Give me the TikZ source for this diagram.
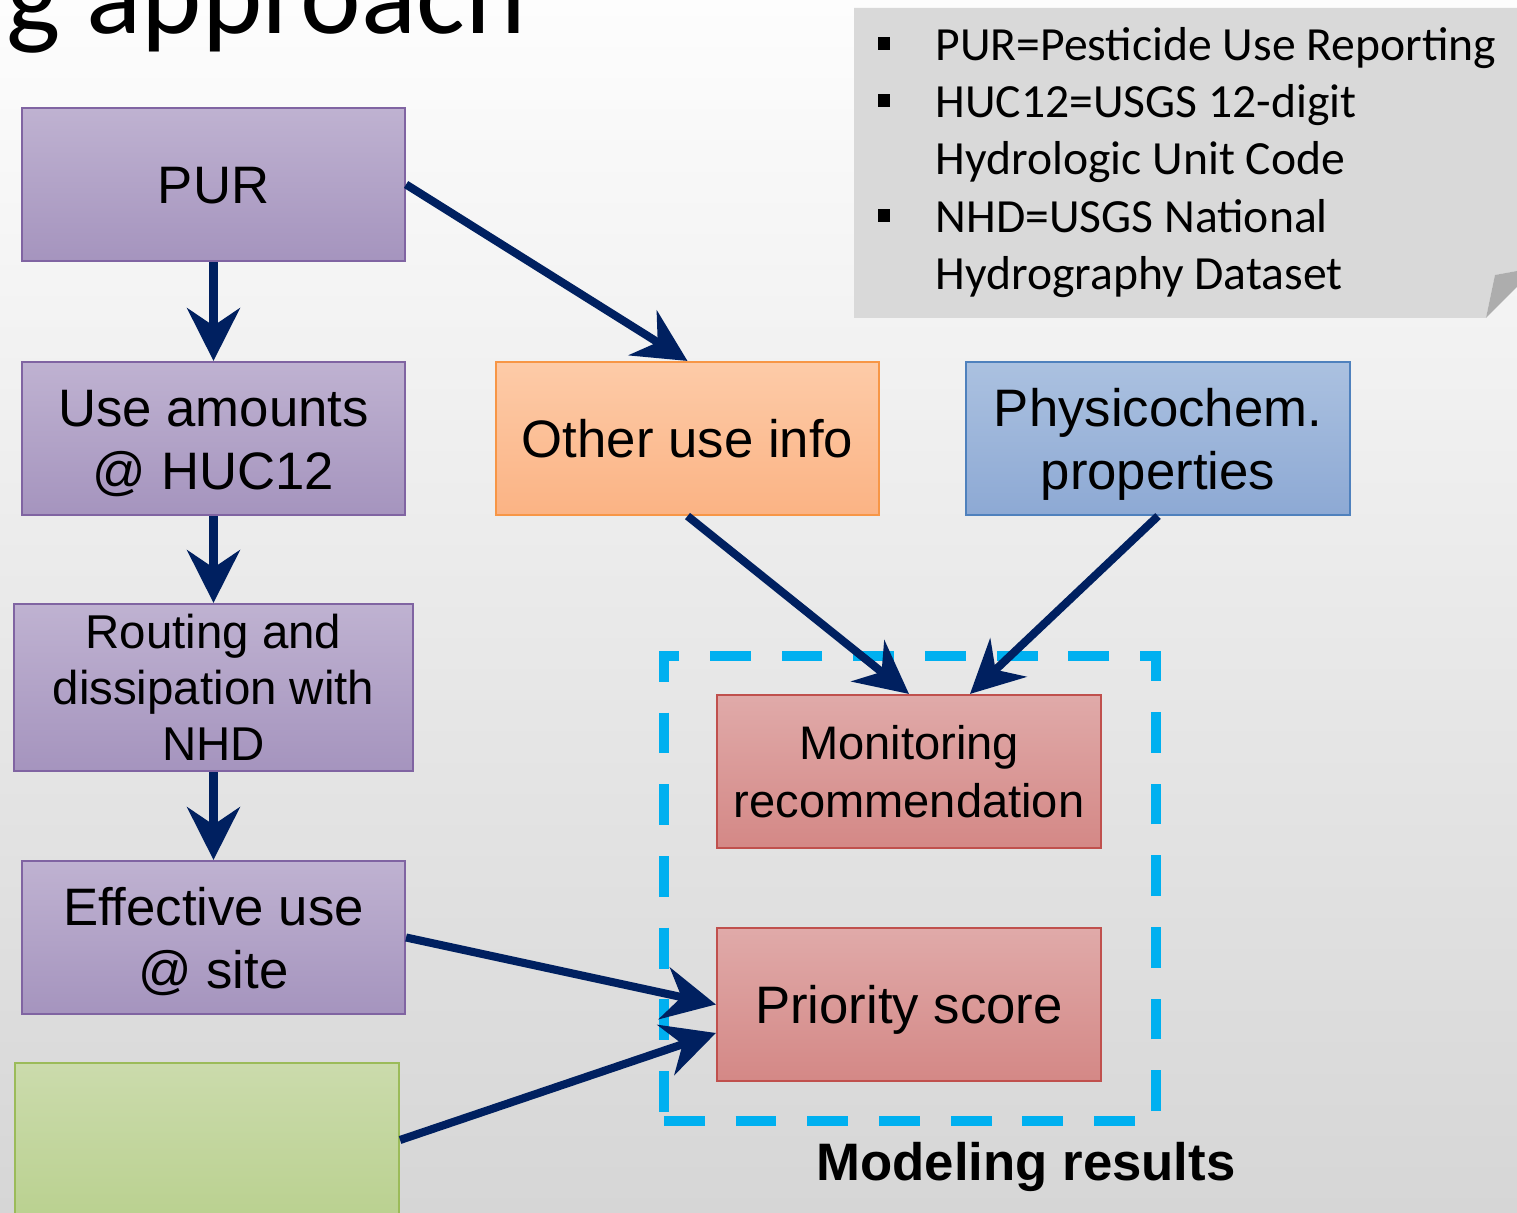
\documentclass[tikz,border=0pt]{standalone}
\usepackage{fontspec}
\setmainfont{Liberation Sans}
\newfontfamily\calib{Carlito}
\usetikzlibrary{arrows.meta}
\definecolor{navy}{HTML}{002060}
\definecolor{bgtop}{HTML}{FDFDFD}
\definecolor{bgbot}{HTML}{D6D6D6}
\definecolor{notegray}{HTML}{D9D9D9}
\definecolor{curlgray}{HTML}{ADADAD}
\definecolor{purT}{HTML}{BFB2D1}
\definecolor{purB}{HTML}{A594BE}
\definecolor{purD}{HTML}{8064A2}
\definecolor{orT}{HTML}{FDCBA8}
\definecolor{orB}{HTML}{FBB384}
\definecolor{orD}{HTML}{F79646}
\definecolor{blT}{HTML}{ABC1E0}
\definecolor{blB}{HTML}{8DA9D4}
\definecolor{blD}{HTML}{4F81BD}
\definecolor{rdT}{HTML}{E0AAA9}
\definecolor{rdB}{HTML}{D48886}
\definecolor{rdD}{HTML}{C0504D}
\definecolor{grT}{HTML}{CBDBAC}
\definecolor{grB}{HTML}{BAD190}
\definecolor{grD}{HTML}{9BBB59}
\definecolor{cyanline}{HTML}{00B0F0}
\tikzset{
  basebox/.style={minimum width=3.83cm, minimum height=1.53cm, inner sep=0pt,
    align=center, line width=0.6pt, font=\fontsize{15}{17.9}\selectfont,
    text height=11pt, text depth=0pt},
  twoline/.style={text height=28.9pt},
  purbox/.style={basebox, draw=purD, top color=purT, bottom color=purB},
  orbox/.style={basebox, draw=orD, top color=orT, bottom color=orB},
  blbox/.style={basebox, draw=blD, top color=blT, bottom color=blB},
  rdbox/.style={basebox, draw=rdD, top color=rdT, bottom color=rdB},
  grbox/.style={basebox, draw=grD, top color=grT, bottom color=grB},
  noteline/.style={anchor=base west, inner sep=0pt, font=\calib\fontsize{13.55}{16.3}\selectfont},
  arr/.style={draw=navy, line width=2.3pt, -{Stealth[length=15pt,width=15pt,inset=5pt]}},
  frame/.style={draw=cyanline, line width=2.6pt, dash pattern=on 11.6pt off 8.8pt, inner sep=0pt},
}
\begin{document}
\begin{tikzpicture}
\useasboundingbox (0,0) rectangle (15.17,-12.13);
\shade[top color=bgtop, bottom color=bgbot] (0,0) rectangle (15.17,-12.13);

% title fragment
\node[anchor=base west, inner sep=0pt, font=\calib\fontsize{32.7}{38}\selectfont] (title) at (0.06,-0.335) {g approach};

% note box with curled corner
\fill[notegray] (8.54,-0.08) -- (15.17,-0.08) -- (15.17,-2.71) -- (14.95,-2.75) -- (14.86,-3.18) -- (8.54,-3.18) -- cycle;
\fill[curlgray] (14.86,-3.18) -- (14.95,-2.75) -- (15.17,-2.71) -- (15.17,-2.87) -- cycle;
\fill (8.78,-0.375) rectangle (8.90,-0.505);
\fill (8.78,-0.945) rectangle (8.90,-1.075);
\fill (8.78,-2.095) rectangle (8.90,-2.225);
\node[noteline] (n1) at (9.35,-0.61) {PUR=Pesticide Use Reporting};
\node[noteline] (n2) at (9.35,-1.18) {HUC12=USGS 12-digit};
\node[noteline] (n3) at (9.35,-1.75) {Hydrologic Unit Code};
\node[noteline] (n4) at (9.35,-2.33) {NHD=USGS National};
\node[noteline] (n5) at (9.35,-2.90) {Hydrography Dataset};

% boxes
\node[purbox] (pur) at (2.135,-1.845) {PUR};
\node[purbox, twoline] (use) at (2.135,-4.385) {Use amounts\\@ HUC12};
\node[purbox, minimum width=3.99cm, minimum height=1.67cm, font=\fontsize{13.5}{16}\selectfont, text height=41.8pt] (rout) at (2.135,-6.875) {Routing and\\dissipation with\\NHD};
\node[purbox, twoline] (eff) at (2.135,-9.375) {Effective use\\@ site};
\node[grbox, minimum width=3.84cm, minimum height=1.54cm] (green) at (2.07,-11.40) {};
\node[orbox] (other) at (6.875,-4.385) {Other use info};
\node[blbox, twoline, minimum width=3.84cm] (phys) at (11.58,-4.385) {Physicochem.\\properties};
\node[frame, minimum width=4.92cm, minimum height=4.65cm] (frm) at (9.10,-8.885) {};
\node[rdbox, minimum width=3.84cm, font=\fontsize{13.4}{16.4}\selectfont, text height=26.1pt] (mon) at (9.09,-7.715) {Monitoring\\recommendation};
\node[rdbox, minimum width=3.84cm] (prio) at (9.09,-10.045) {Priority score};
\node[font=\bfseries\fontsize{15}{18}\selectfont, inner sep=0pt] (lbl) at (10.26,-11.67) {Modeling results};

% connectors
\draw[arr] (pur.south) -- (use.north);
\draw[arr] (use.south) -- (rout.north);
\draw[arr] (rout.south) -- (eff.north);
\draw[arr] (pur.east) -- (other.north);
\draw[arr] (other.south) -- (mon.north);
\draw[arr] (phys.south) -- ([xshift=0.61cm]mon.north);
\draw[arr] (eff.east) -- (prio.west);
\draw[arr] (green.east) -- ([yshift=-0.285cm]prio.west);
\end{tikzpicture}
\end{document}
